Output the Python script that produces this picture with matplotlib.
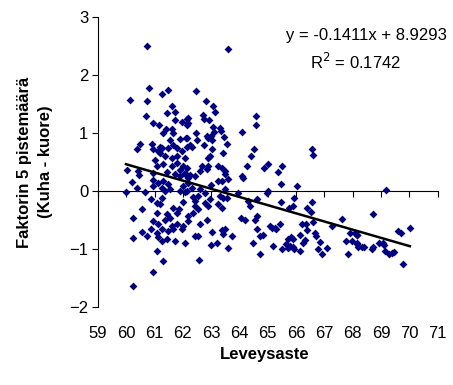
import matplotlib
matplotlib.use("Agg")
import matplotlib.pyplot as plt
import numpy as np

# Leveysaste (x) ja faktorin 5 pistemäärä (y), luettu kuvasta
leveys = [
    60.72, 60.81, 61.27, 61.48, 60.13, 60.73, 61.60, 61.43, 61.72, 60.69,
    60.95, 61.14, 61.72, 61.96, 62.16, 62.16, 61.39, 61.31, 61.60, 61.66,
    61.90, 62.11, 61.54, 60.48, 60.39, 60.92, 61.19, 60.95, 61.13, 61.25,
    61.48, 61.66, 61.78, 61.96, 62.13, 61.19, 61.37, 61.01, 61.60, 61.78,
    62.07, 61.31, 61.60, 61.07, 61.78, 62.01, 60.01, 60.42, 60.46, 60.95,
    61.43, 61.72, 61.90, 62.07, 61.90,
    60.19, 60.39, 59.99, 60.66, 60.95, 61.13, 61.31, 61.48, 60.95, 61.25,
    61.37, 61.54, 61.90, 62.01, 62.07, 62.19, 60.89, 61.07, 61.25, 61.19,
    62.01, 60.54, 61.64, 61.87, 61.78, 60.25, 61.07, 61.43, 61.54, 61.37,
    60.95, 61.13, 61.60, 61.78, 62.01, 62.19, 60.89, 61.07, 61.25, 61.48,
    61.66, 61.96, 60.54, 60.72, 61.13, 61.25, 61.43, 61.72, 62.07, 60.25,
    61.10, 61.29, 60.93, 60.25,
    63.60, 62.46, 62.82, 63.07, 63.13, 62.19, 62.19, 62.72, 62.75, 62.92,
    64.57, 64.57, 63.07, 63.31, 63.34, 63.11, 64.10, 62.45, 62.13, 62.49,
    62.84, 62.99, 63.02, 62.88, 63.46, 63.55, 62.25, 62.33, 62.76, 63.02,
    62.96, 62.90, 63.43, 64.51, 64.41, 64.25, 62.66, 62.90, 62.60, 62.84,
    63.25, 63.37, 63.49, 62.13, 62.43, 62.19, 64.10, 64.88, 65.02,
    62.07, 62.25, 63.49, 63.37, 63.60, 63.25, 64.13, 62.99, 62.60, 62.31,
    62.13, 62.78, 63.49, 63.31, 63.43, 63.55, 62.37, 62.54, 62.43, 62.96,
    62.78, 62.90, 63.25, 63.37, 63.96, 64.31, 64.37, 64.61, 64.96, 64.99,
    62.43, 62.54, 62.37, 62.19, 62.84, 62.60, 64.07, 64.19, 64.61, 64.55,
    65.14, 65.25, 64.61, 63.02, 63.37, 63.49, 63.43, 62.43, 62.54, 63.75,
    64.72, 64.84, 62.99, 63.19, 63.60, 64.49, 65.19, 64.72, 62.58,
    66.57, 66.61, 65.51, 65.37, 65.47, 66.02,
    65.46, 65.93, 65.76, 65.88, 66.38, 66.55, 66.52, 65.08, 65.29, 65.43,
    66.20, 66.35, 66.40, 66.67, 66.71, 66.61, 67.26, 67.61, 67.90, 68.14,
    66.14, 66.31, 66.25, 65.73, 65.81, 65.90, 65.66, 65.78, 65.88, 65.73,
    65.93, 66.84, 66.78, 66.90, 67.10, 65.49, 66.14, 67.76, 67.96, 68.14,
    67.84,
    69.18, 68.71, 68.08, 68.16, 68.14, 68.20, 68.32, 68.40, 68.67, 68.73,
    68.94, 69.08, 69.12, 69.14, 69.29, 69.38, 69.47, 69.61, 69.70, 70.02,
    69.77,
]
pisteet = [
    2.50, 1.78, 1.68, 1.74, 1.57, 1.55, 1.47, 1.35, 1.37, 1.30,
    1.18, 1.14, 1.22, 1.19, 1.25, 1.15, 1.08, 1.00, 1.08, 1.01,
    0.90, 0.92, 0.89, 0.82, 0.72, 0.82, 0.77, 0.73, 0.69, 0.75,
    0.75, 0.80, 0.75, 0.69, 0.76, 0.65, 0.61, 0.53, 0.57, 0.61,
    0.57, 0.46, 0.43, 0.43, 0.49, 0.43, 0.36, 0.34, 0.27, 0.32,
    0.33, 0.30, 0.37, 0.32, 0.26,
    0.16, 0.06, -0.01, -0.02, 0.19, 0.14, 0.17, 0.12, 0.09, 0.06,
    0.00, 0.03, 0.00, 0.09, -0.02, 0.14, -0.14, -0.20, -0.11, -0.23,
    -0.19, -0.30, -0.29, -0.30, -0.37, -0.46, -0.37, -0.40, -0.46, -0.49,
    -0.52, -0.57, -0.60, -0.57, -0.60, -0.52, -0.66, -0.72, -0.66, -0.69,
    -0.65, -0.65, -0.71, -0.78, -0.80, -0.86, -0.82, -0.86, -0.89, -0.81,
    -1.03, -1.20, -1.40, -1.64,
    2.45, 1.73, 1.56, 1.47, 1.36, 1.26, 1.17, 1.32, 1.25, 1.23,
    1.30, 1.15, 1.11, 1.09, 1.03, 1.02, 1.02, 1.01, 0.92, 0.89,
    0.96, 0.95, 0.89, 0.92, 0.94, 0.82, 0.80, 0.76, 0.80, 0.73,
    0.60, 0.57, 0.65, 0.73, 0.60, 0.43, 0.44, 0.43, 0.34, 0.39,
    0.43, 0.40, 0.34, 0.40, 0.26, 0.23, 0.26, 0.40, 0.46,
    0.29, 0.27, 0.29, 0.17, 0.21, 0.17, 0.23, 0.10, 0.04, 0.06,
    0.00, -0.03, 0.03, -0.09, -0.11, -0.11, -0.10, -0.09, -0.17, -0.14,
    -0.20, -0.26, -0.23, -0.29, -0.03, -0.17, -0.26, -0.13, -0.03, 0.00,
    -0.26, -0.31, -0.37, -0.43, -0.49, -0.56, -0.46, -0.50, -0.43, -0.49,
    -0.63, -0.63, -0.66, -0.71, -0.67, -0.66, -0.74, -0.78, -0.77, -0.78,
    -0.78, -0.76, -0.93, -0.90, -0.99, -0.89, -0.95, -1.09, -1.19,
    0.73, 0.63, 0.43, 0.33, 0.13, 0.09,
    -0.19, -0.11, -0.29, -0.26, -0.29, -0.18, -0.36, -0.60, -0.66, -0.56,
    -0.56, -0.57, -0.67, -0.72, -0.77, -0.54, -0.60, -0.48, -0.73, -0.75,
    -0.75, -0.84, -0.89, -0.83, -0.80, -0.82, -0.92, -0.95, -0.97, -0.99,
    -1.00, -0.88, -1.00, -1.09, -0.99, -1.00, -1.03, -0.86, -0.86, -0.92,
    -1.09,
    0.02, -0.40, -0.72, -0.75, -0.89, -0.96, -0.96, -0.96, -1.00, -0.96,
    -0.90, -0.89, -0.93, -1.03, -1.09, -1.07, -1.05, -0.69, -0.72, -0.63,
    -1.26,
]

# trendiviivan kertoimet (Excelin laskemat)
kulmakerroin = -0.1411
vakio = 8.9293
r2 = 0.1742

x_ticks = list(range(59, 72))
y_ticks = [-2, -1, 0, 1, 2, 3]

plt.rcParams["font.family"] = ["Liberation Sans", "DejaVu Sans"]

fig = plt.figure(figsize=(4.53, 3.85), dpi=100)
ax = fig.add_axes([0.2163, 0.2026, 0.7497, 0.7524])

ax.scatter(leveys, pisteet, marker="D", s=16, color="#000080",
           linewidths=0, zorder=3)

# lineaarinen trendi datan x-alueella
xs = np.array([min(leveys), max(leveys)])
ax.plot(xs, kulmakerroin * xs + vakio, color="black", linewidth=1.8, zorder=4)

ax.set_xlim(59, 71)
ax.set_ylim(-2, 3)
ax.set_yticks(y_ticks)
ax.set_xticks(x_ticks)
ax.tick_params(axis="y", direction="out", length=4, width=0.8, labelsize=12, pad=3)
ax.tick_params(axis="x", direction="out", length=4, width=0.8, labelbottom=False)

for s in ["top", "right"]:
    ax.spines[s].set_visible(False)
ax.spines["bottom"].set_position(("data", 0))
ax.spines["left"].set_linewidth(0.8)
ax.spines["bottom"].set_linewidth(0.8)

# x-akselin numerot kuvan alareunaan
alaakseli = ax.secondary_xaxis(0)
alaakseli.set_xticks(x_ticks)
alaakseli.spines["bottom"].set_visible(False)
alaakseli.tick_params(length=0, labelsize=12, pad=14)

fig.text(0.585, 0.078, "Leveysaste", ha="center", va="center",
         fontsize=12, fontweight="bold")
fig.text(0.077, 0.579, "Faktorin 5 pistemäärä\n(Kuha - kuore)", rotation=90,
         ha="center", va="center", fontsize=12, fontweight="bold",
         linespacing=1.55)

fig.text(0.987, 0.909, f"y = {kulmakerroin}x + {vakio}",
         ha="right", va="center", fontsize=12)
fig.text(0.785, 0.838, f"R$^2$ = {r2}", ha="center", va="center", fontsize=12)

plt.savefig("out.png", dpi=100)
plt.close(fig)
